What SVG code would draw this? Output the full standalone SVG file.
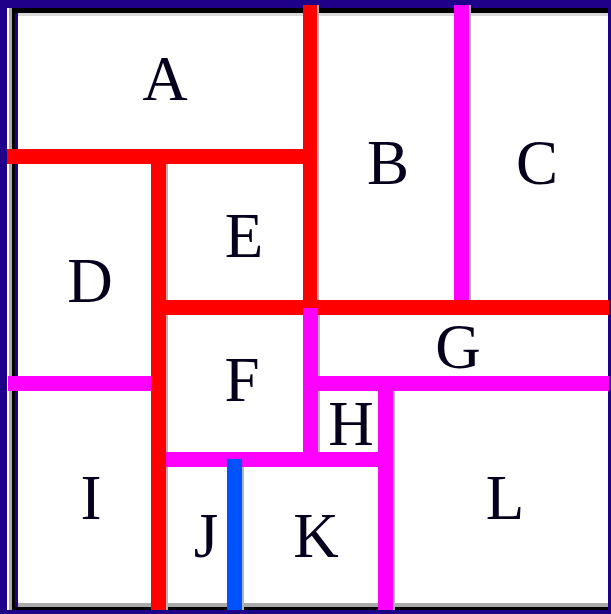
<svg xmlns="http://www.w3.org/2000/svg" width="611" height="614" viewBox="0 0 611 614">
<style>
.red{fill:#ff0000}
.mag{fill:#ff00ff}
.blu{fill:#0052ff}
.sh{fill:#b4b4b4}
.lbl{font-family:"Liberation Serif","Times New Roman",serif;font-size:63px;fill:#06001c;text-anchor:middle}
</style>
<g id="frame">
<rect x="0" y="0" width="611" height="614" fill="#1f0088"/>
<rect x="7" y="8" width="601" height="602" fill="#ffffff"/>
<rect x="9" y="8" width="3" height="602" fill="#a8a8a8"/>
<rect x="12" y="8" width="3" height="602" fill="#000000"/>
<rect x="15" y="13" width="3" height="594" fill="#1f0088"/>
<rect x="15" y="8" width="593" height="5" fill="#000000"/>
<rect x="18" y="13" width="590" height="3" fill="#d8d8d8"/>
<rect x="18" y="603" width="590" height="4" fill="#aaaaaa"/>
<rect x="12" y="607" width="596" height="3" fill="#000000"/>
</g>
<g id="connectors">
<rect class="sh" x="317" y="5" width="2" height="310"/>
<rect class="sh" x="166" y="164" width="2" height="446"/>
<rect class="sh" x="469" y="5" width="2" height="295"/>
<rect class="sh" x="318" y="315" width="2" height="137"/>
<rect class="sh" x="393" y="391" width="2" height="219"/>
<rect class="sh" x="242" y="467" width="2" height="143"/>
<rect class="mag" x="8" y="376" width="145" height="15"/>
<rect class="mag" x="454" y="5" width="15" height="303"/>
<rect class="mag" x="318" y="376" width="291" height="15"/>
<rect class="mag" x="159" y="452" width="234" height="15"/>
<rect class="mag" x="378" y="376" width="15" height="234"/>
<rect class="red" x="7" y="149" width="310" height="15"/>
<rect class="red" x="303" y="5" width="14" height="310"/>
<rect class="red" x="151" y="149" width="15" height="461"/>
<rect class="red" x="151" y="300" width="458" height="15"/>
<rect class="mag" x="303" y="308" width="15" height="150"/>
<rect class="blu" x="227" y="459" width="15" height="151"/>
</g>
<g id="A"><text class="lbl" x="165" y="100">A</text></g>
<g id="B"><text class="lbl" x="388" y="184">B</text></g>
<g id="C"><text class="lbl" x="537" y="184">C</text></g>
<g id="D"><text class="lbl" x="90" y="302">D</text></g>
<g id="E"><text class="lbl" x="244" y="257">E</text></g>
<g id="F"><text class="lbl" x="242" y="401">F</text></g>
<g id="G"><text class="lbl" x="458" y="368">G</text></g>
<g id="H"><text class="lbl" x="351" y="445">H</text></g>
<g id="I"><text class="lbl" x="91" y="519">I</text></g>
<g id="J"><text class="lbl" x="206" y="557">J</text></g>
<g id="K"><text class="lbl" x="316" y="557">K</text></g>
<g id="L"><text class="lbl" x="505" y="519">L</text></g>
</svg>
